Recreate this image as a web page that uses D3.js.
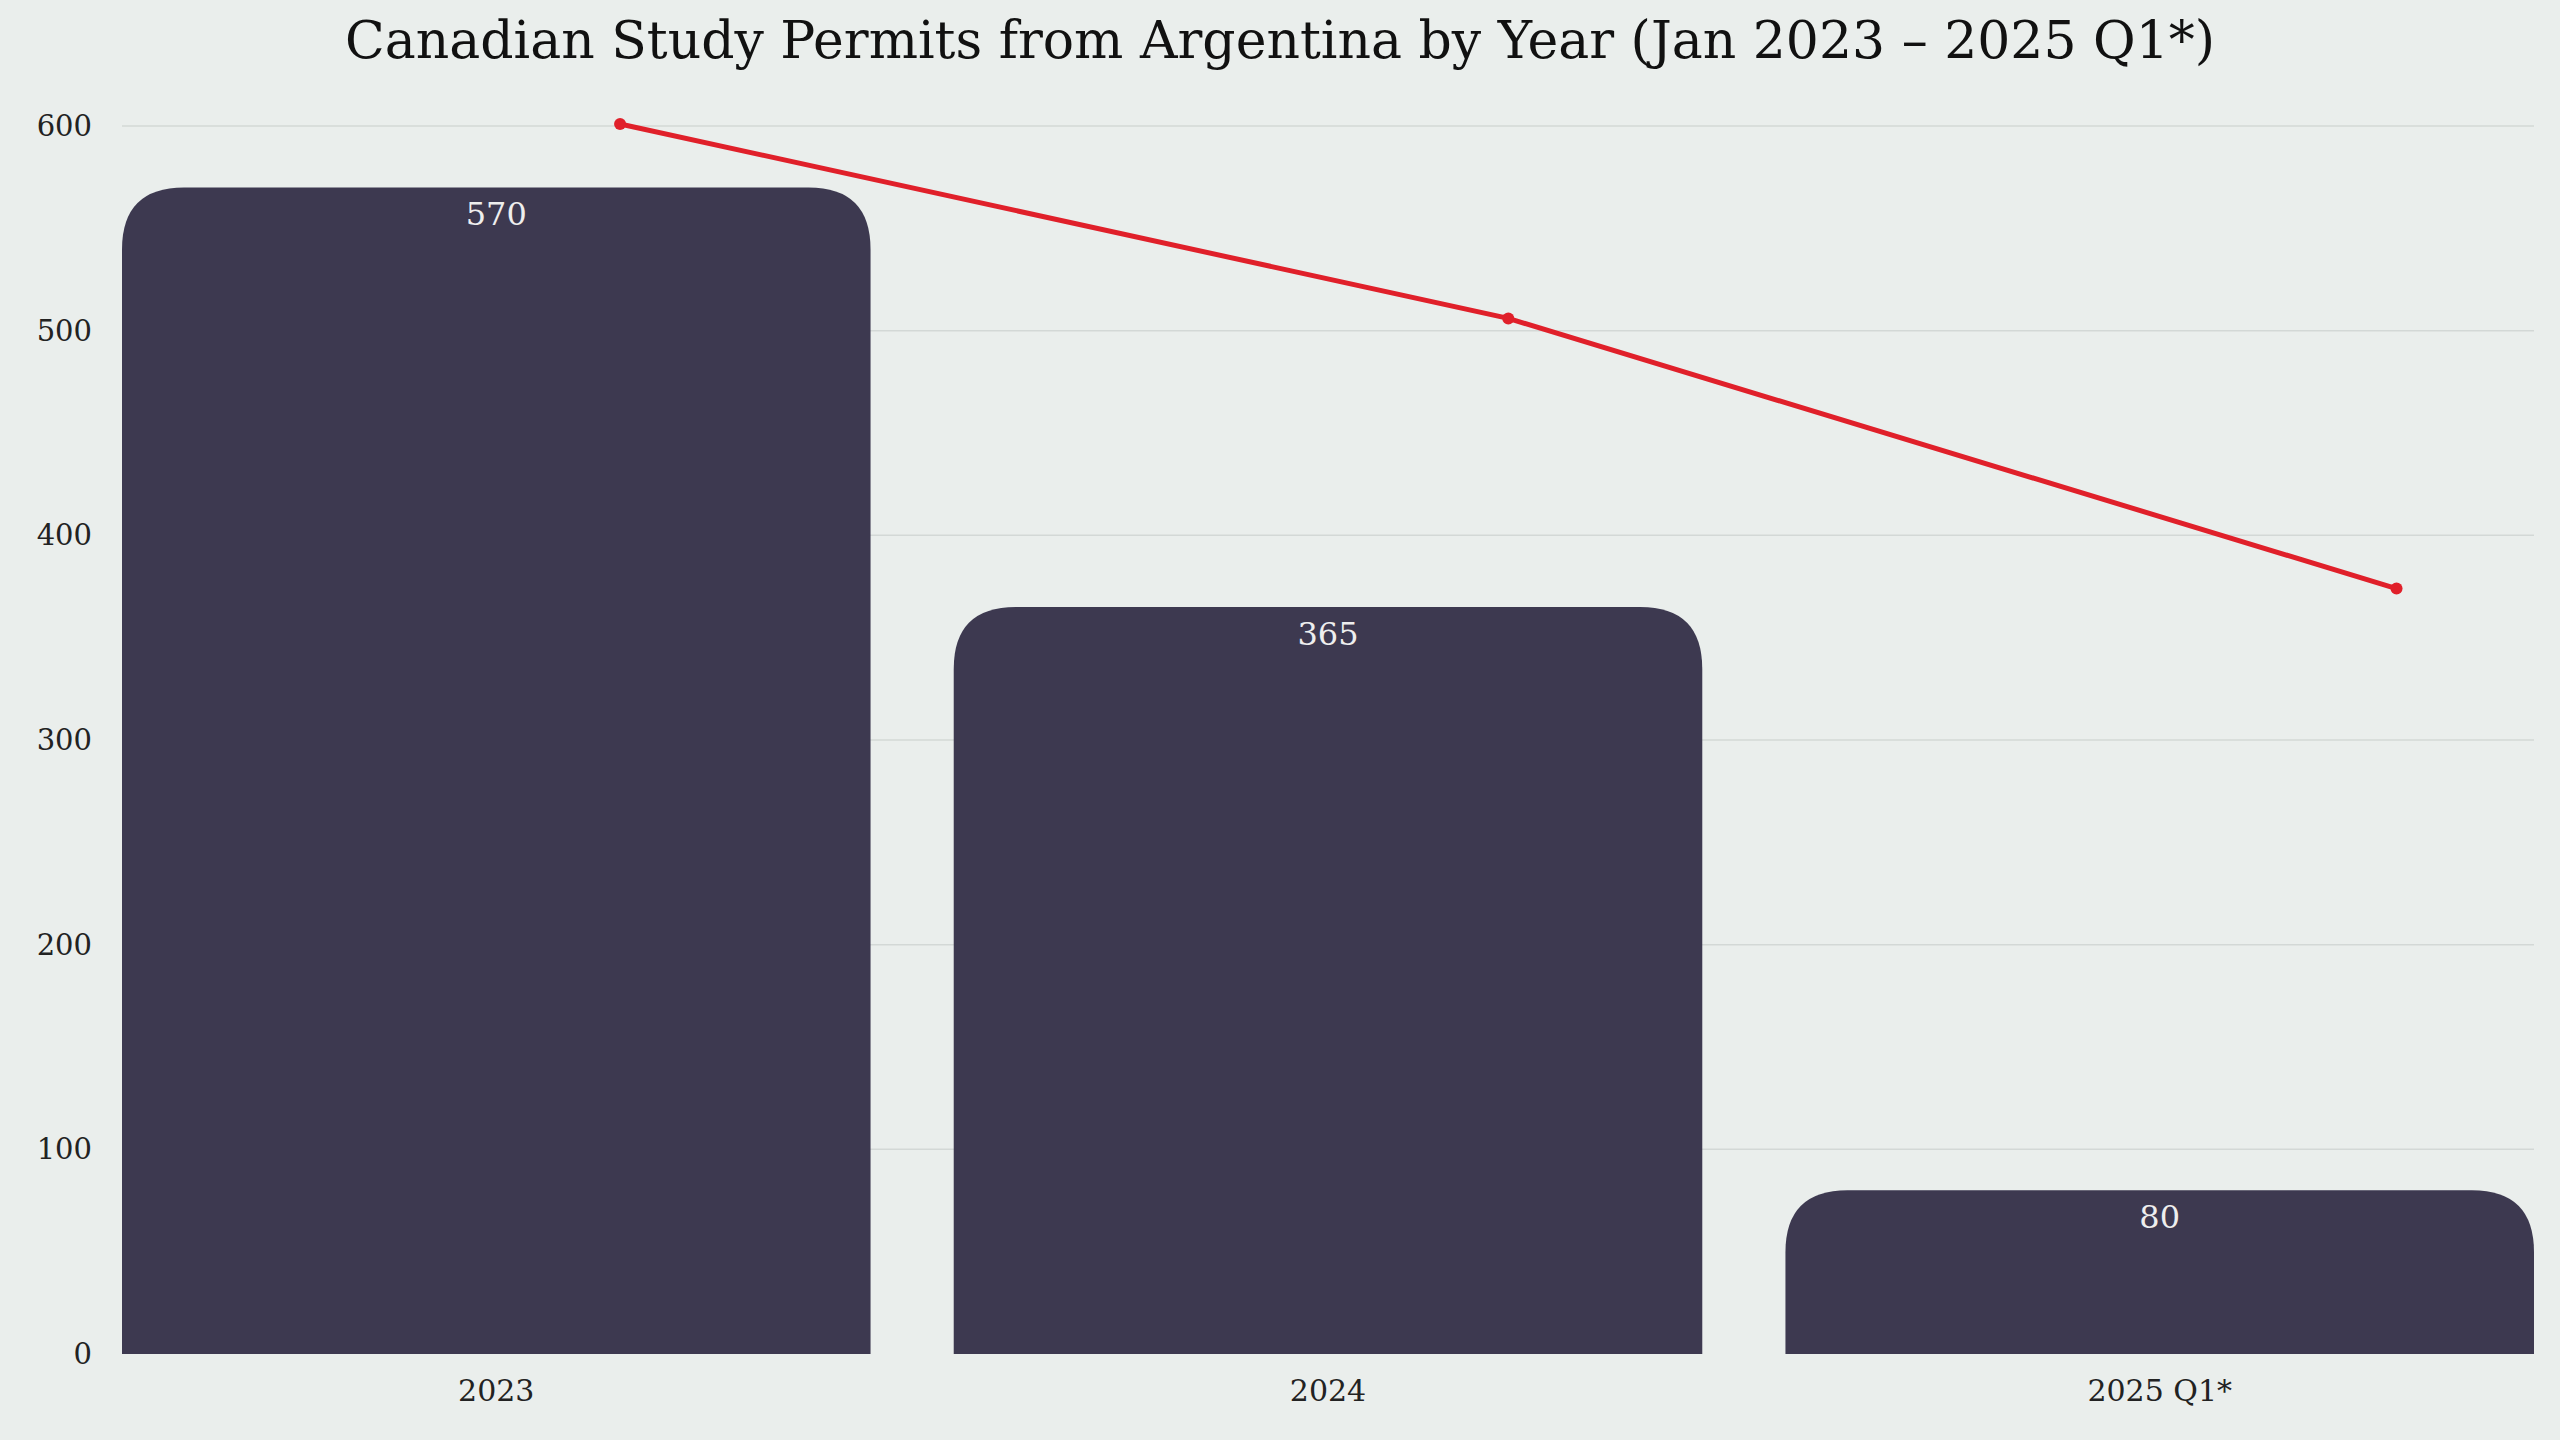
<!DOCTYPE html>
<html><head><meta charset="utf-8">
<script src="https://cdn.jsdelivr.net/npm/d3@7/dist/d3.min.js"></script>
<style>body{margin:0;background:#eaeeec}svg{display:block}</style>
</head><body>
<script>
const categories = ["2023", "2024", "2025 Q1*"];
const barValues = [570, 365, 80];
const lineValues = [601, 506, 374];
const yTicks = [0, 100, 200, 300, 400, 500, 600];
const title = "Canadian Study Permits from Argentina by Year (Jan 2023 – 2025 Q1*)";

const W = 2560, H = 1440, L = 122, R = 2534, T = 126, B = 1354;
const font = "'DejaVu Serif', 'Liberation Serif', serif";
const svg = d3.select("body").append("svg").attr("width", W).attr("height", H).style("background", "#eaeeec");

const x = d3.scaleBand().domain(categories).range([L, R]).paddingInner(0.1).paddingOuter(0);
const y = d3.scaleLinear().domain([0, 600]).range([B, T]);
const xl = d3.scalePoint().domain(categories).range([L + 0.2065 * (R - L), L + 0.943 * (R - L)]);

svg.append("g").selectAll("line").data(yTicks.filter(d => d > 0)).join("line")
  .attr("x1", L).attr("x2", R).attr("y1", d => y(d)).attr("y2", d => y(d))
  .attr("stroke", "#d3d8d6").attr("stroke-width", 1.5);

svg.append("g").selectAll("text").data(yTicks).join("text")
  .attr("x", L - 30).attr("y", d => y(d)).attr("dy", "0.35em").attr("text-anchor", "end")
  .attr("font-family", font).attr("font-size", 29).attr("fill", "#222").text(d => d);

const r = 62;
svg.append("g").selectAll("path").data(barValues).join("path")
  .attr("fill", "#3d3950")
  .attr("d", (d, i) => {
    const x0 = x(categories[i]), w = x.bandwidth(), y0 = y(d), rr = Math.min(r, B - y0);
    return `M${x0},${B}V${y0 + rr}Q${x0},${y0} ${x0 + rr},${y0}H${x0 + w - rr}Q${x0 + w},${y0} ${x0 + w},${y0 + rr}V${B}Z`;
  });

svg.append("g").selectAll("text").data(barValues).join("text")
  .attr("x", (d, i) => x(categories[i]) + x.bandwidth() / 2).attr("y", d => y(d) + 38)
  .attr("text-anchor", "middle").attr("font-family", font).attr("font-size", 32)
  .attr("fill", "#eeeeee").text(d => d);

svg.append("g").selectAll("text").data(categories).join("text")
  .attr("x", d => x(d) + x.bandwidth() / 2).attr("y", B + 47).attr("text-anchor", "middle")
  .attr("font-family", font).attr("font-size", 30).attr("fill", "#222").text(d => d);

svg.append("path").datum(lineValues)
  .attr("d", d3.line().x((d, i) => xl(categories[i])).y(d => y(d)))
  .attr("fill", "none").attr("stroke", "#e0202a").attr("stroke-width", 5);
svg.append("g").selectAll("circle").data(lineValues).join("circle")
  .attr("cx", (d, i) => xl(categories[i])).attr("cy", d => y(d)).attr("r", 6).attr("fill", "#e0202a");

svg.append("text").attr("x", W / 2).attr("y", 58).attr("text-anchor", "middle")
  .attr("font-family", font).attr("font-size", 52).attr("fill", "#111").text(title);
</script>
</body></html>
